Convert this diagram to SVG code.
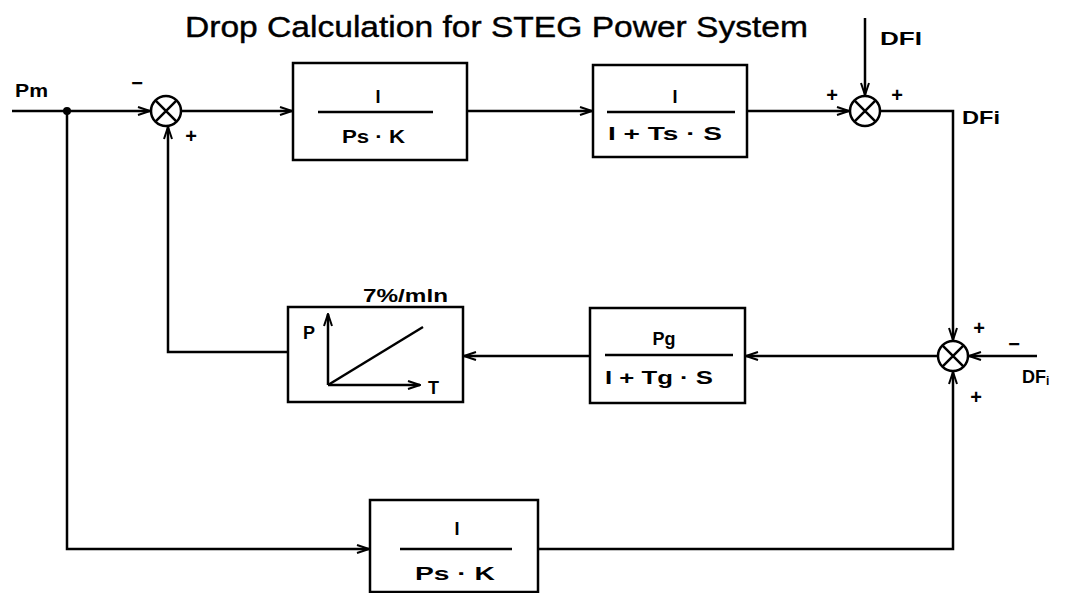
<svg xmlns="http://www.w3.org/2000/svg" width="1065" height="593" viewBox="0 0 1065 593">
<style>
.ln{fill:none;stroke:#000;stroke-width:2.5;stroke-linejoin:miter}
.bx{fill:#fff;stroke:#000;stroke-width:2.5}
.sum{fill:#fff;stroke:#000;stroke-width:2.5}
.t{font-family:"Liberation Sans",Arial,sans-serif;font-weight:bold;font-size:18px;fill:#000}
.c{text-anchor:middle}
.title{font-family:"Liberation Sans",Arial,sans-serif;font-size:29px;fill:#000;stroke:#000;stroke-width:0.4}
.sg{font-family:"Liberation Sans",Arial,sans-serif;font-weight:bold;font-size:20px;fill:#000;text-anchor:middle}
</style>
<defs>
<marker id="ar" viewBox="0 0 14 10" refX="13" refY="5" markerWidth="14" markerHeight="10" markerUnits="userSpaceOnUse" orient="auto">
<path d="M1,1 L13,5 L1,9" fill="none" stroke="#000" stroke-width="2"/>
</marker>
</defs>
<rect width="1065" height="593" fill="#fff"/>
<text class="title" x="185" y="37" textLength="623" lengthAdjust="spacingAndGlyphs">Drop Calculation for STEG Power System</text>

<g id="connectors">
<path class="ln" d="M12,111 H150" marker-end="url(#ar)"/>
<path class="ln" d="M181,111 H292" marker-end="url(#ar)"/>
<path class="ln" d="M467,111 H592" marker-end="url(#ar)"/>
<path class="ln" d="M747,111 H849" marker-end="url(#ar)"/>
<path class="ln" d="M865,18 V95" marker-end="url(#ar)"/>
<path class="ln" d="M880,111 H953 V340" marker-end="url(#ar)"/>
<path class="ln" d="M1037,356 H969" marker-end="url(#ar)"/>
<path class="ln" d="M938,356 H746" marker-end="url(#ar)"/>
<path class="ln" d="M590,356 H464" marker-end="url(#ar)"/>
<path class="ln" d="M288,352 H168 V127" marker-end="url(#ar)"/>
<path class="ln" d="M67,111 V549 H369" marker-end="url(#ar)"/>
<path class="ln" d="M538,549 H953 V372" marker-end="url(#ar)"/>
<circle cx="67" cy="111" r="4" fill="#000"/>
</g>

<g id="sum1">
<circle class="sum" cx="166" cy="111" r="15"/>
<path class="ln" d="M155.4,100.4 L176.6,121.6 M176.6,100.4 L155.4,121.6"/>
<text class="sg" x="137" y="90">−</text>
<text class="sg" x="191" y="143">+</text>
</g>

<g id="block1">
<rect class="bx" x="293" y="63" width="174" height="97"/>
<line class="ln" x1="318" y1="112" x2="433" y2="112"/>
<text class="t c" x="378" y="103">I</text>
<text class="t" x="342" y="143" textLength="63" lengthAdjust="spacingAndGlyphs">Ps · K</text>
</g>

<g id="block2">
<rect class="bx" x="593" y="65" width="154" height="92"/>
<line class="ln" x1="607" y1="112" x2="735" y2="112"/>
<text class="t c" x="675" y="103">I</text>
<text class="t" x="608" y="140" textLength="114" lengthAdjust="spacingAndGlyphs">I + Ts · S</text>
</g>

<g id="sum2">
<circle class="sum" cx="865" cy="111" r="15"/>
<path class="ln" d="M854.4,100.4 L875.6,121.6 M875.6,100.4 L854.4,121.6"/>
<text class="sg" x="832" y="102">+</text>
<text class="sg" x="897" y="102">+</text>
<text class="t" x="880" y="45" font-size="15" textLength="42" lengthAdjust="spacingAndGlyphs">DFI</text>
<text class="t" x="962" y="124" font-size="15" textLength="38" lengthAdjust="spacingAndGlyphs">DFi</text>
</g>

<g id="sum3">
<circle class="sum" cx="953" cy="356" r="15"/>
<path class="ln" d="M942.4,345.4 L963.6,366.6 M963.6,345.4 L942.4,366.6"/>
<text class="sg" x="979" y="335">+</text>
<text class="sg" x="1014" y="351">−</text>
<text class="sg" x="976" y="404">+</text>
<text class="t" x="1022" y="383" font-size="18">DF<tspan font-size="12" dy="2">i</tspan></text>
</g>

<g id="block_pg">
<rect class="bx" x="590" y="308" width="155" height="95"/>
<line class="ln" x1="605" y1="355" x2="733" y2="355"/>
<text class="t c" x="664" y="345">Pg</text>
<text class="t" x="605" y="384" textLength="108" lengthAdjust="spacingAndGlyphs">I + Tg · S</text>
</g>

<g id="block_ramp">
<rect class="bx" x="288" y="307" width="175" height="95"/>
<text class="t" x="363" y="302" font-size="17" textLength="85" lengthAdjust="spacingAndGlyphs">7%/mln</text>
<path class="ln" d="M328,385 V314" marker-end="url(#ar)"/>
<path class="ln" d="M328,385 H420" marker-end="url(#ar)"/>
<line class="ln" x1="328" y1="385" x2="423" y2="327"/>
<text class="t" x="303" y="339">P</text>
<text class="t" x="428" y="394">T</text>
</g>

<g id="block3">
<rect class="bx" x="370" y="500" width="168" height="92"/>
<line class="ln" x1="400" y1="549" x2="512" y2="549"/>
<text class="t c" x="457" y="535">I</text>
<text class="t" x="415" y="580" textLength="80" lengthAdjust="spacingAndGlyphs">Ps · K</text>
</g>

<g id="pm_label">
<text class="t" x="15" y="97" textLength="33" lengthAdjust="spacingAndGlyphs">Pm</text>
</g>
</svg>
